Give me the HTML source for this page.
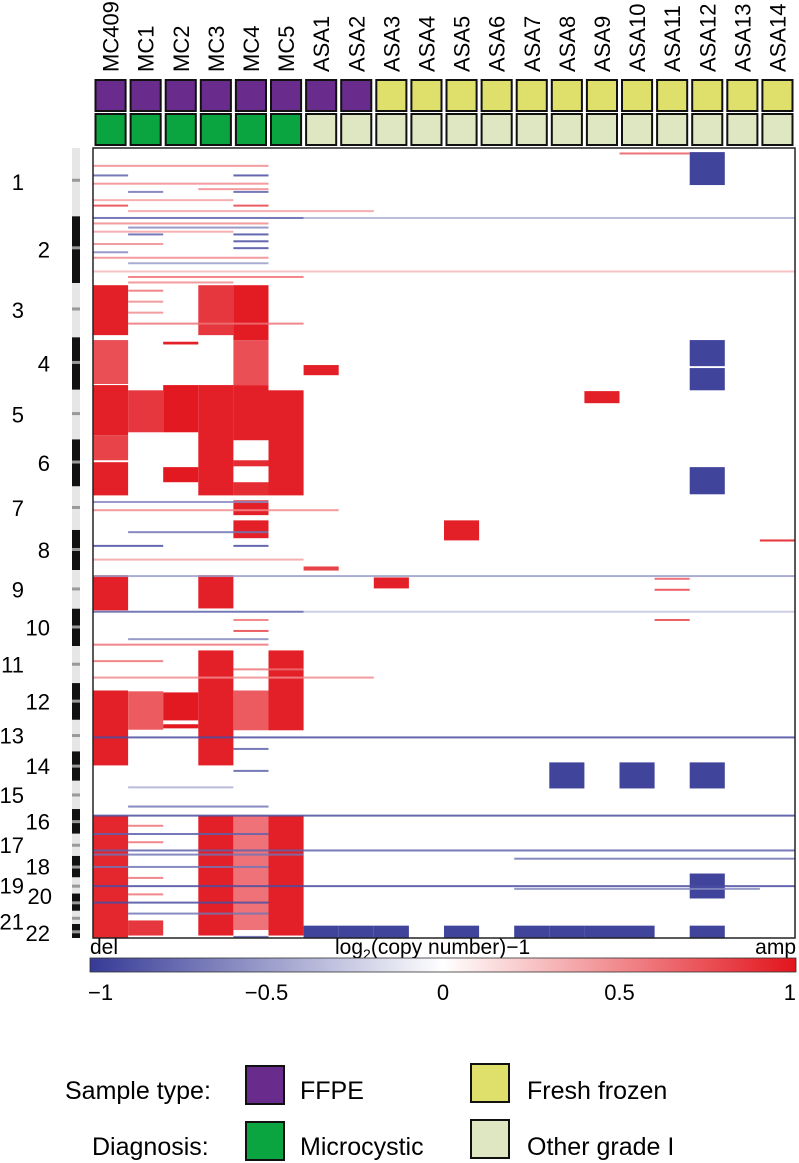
<!DOCTYPE html>
<html><head><meta charset="utf-8"><style>
body{margin:0;background:#fff;width:799px;height:1163px;overflow:hidden;font-family:"Liberation Sans",sans-serif}
svg{display:block}
</style></head><body>
<svg id="fig" width="799" height="1163" xmlns="http://www.w3.org/2000/svg" font-family="Liberation Sans, sans-serif">
<defs><linearGradient id="cb" x1="0" x2="1" y1="0" y2="0">
<stop offset="0" stop-color="#363a96"/><stop offset="0.5" stop-color="#ffffff"/><stop offset="1" stop-color="#e2141c"/></linearGradient></defs>
<g id="header"></g>
<g id="ideo"></g>
<g id="heat"></g>
<rect x="93" y="148" width="702" height="790" fill="none" stroke="#222" stroke-width="1.5"/>
<g>
<text x="90" y="954" font-size="21">del</text>
<text x="335" y="954" font-size="21">log<tspan font-size="14" dy="5">2</tspan><tspan dy="-5">(copy number)−1</tspan></text>
<text x="796" y="954" font-size="21" text-anchor="end">amp</text>
<rect x="90" y="958" width="706" height="14" fill="url(#cb)" stroke="#333" stroke-width="0.8"/>
<g id="cbticks"></g>
</g>
<g>
<text x="65" y="1099" font-size="25">Sample type:</text>
<rect x="246" y="1066" width="38" height="38" fill="#6a2c8c" stroke="#111" stroke-width="2"/>
<text x="300" y="1099" font-size="25">FFPE</text>
<rect x="471" y="1064" width="38" height="38" fill="#dfe06c" stroke="#111" stroke-width="2"/>
<text x="527" y="1099" font-size="25">Fresh frozen</text>
<text x="92" y="1155" font-size="25">Diagnosis:</text>
<rect x="246" y="1122" width="38" height="38" fill="#0aa540" stroke="#111" stroke-width="2"/>
<text x="300" y="1155" font-size="25">Microcystic</text>
<rect x="471" y="1120" width="38" height="38" fill="#dfe6c2" stroke="#111" stroke-width="2"/>
<text x="527" y="1155" font-size="25">Other grade I</text>
</g>
</svg>
<script>
const samples=["MC409","MC1","MC2","MC3","MC4","MC5","ASA1","ASA2","ASA3","ASA4","ASA5","ASA6","ASA7","ASA8","ASA9","ASA10","ASA11","ASA12","ASA13","ASA14"];
const sampleType=["F","F","F","F","F","F","F","F","R","R","R","R","R","R","R","R","R","R","R","R"];
const diagnosis=["M","M","M","M","M","M","O","O","O","O","O","O","O","O","O","O","O","O","O","O"];
const chromLengths=[249,243,198,191,181,171,159,146,141,136,135,134,115,107,103,90,81,78,59,63,48,51];
const cbTicks=[-1,-0.5,0,0.5,1];
const cbTickLabels=["−1","−0.5","0","0.5","1"];
// segments: [sampleIndex, startMb, endMb, log2 value]
const segments=[
[0,500,682,0.95],[0,700,860,0.75],[0,864,1047,0.95],[0,1047,1138,0.8],[0,1145,1266,0.95],[0,1557,1685,0.95],[0,1977,2250,0.95],[0,2433,2881,0.92],
[1,883,1036,0.85],[1,1980,2120,0.7],[1,2815,2870,0.85],
[2,706,716,0.95],[2,864,1036,0.98],[2,1163,1218,0.98],[2,1984,2086,0.98],[2,2100,2115,0.98],
[3,500,682,0.85],[3,864,1266,0.95],[3,1557,1678,0.95],[3,1831,2250,0.95],[3,2433,2870,0.95],
[4,500,700,0.97],[4,700,864,0.75],[4,864,1065,0.95],[4,1138,1160,0.9],[4,1218,1266,0.9],[4,1284,1338,0.95],[4,1357,1422,0.95],[4,1977,2122,0.7],[4,2433,2850,0.6],
[5,883,1266,0.95],[5,1831,2122,0.95],[5,2433,2870,0.95],
[6,791,828,0.95],[6,1525,1540,0.8],
[8,1565,1605,0.95],
[10,1357,1430,0.95],
[13,2239,2334,-0.95],[15,2239,2334,-0.95],[17,2239,2334,-0.95],
[14,886,930,0.95],
[17,15,135,-0.95],[17,700,795,-0.95],[17,802,883,-0.95],[17,1163,1262,-0.95],[17,2644,2735,-0.95],
[6,2834,2881,-0.95],[7,2834,2881,-0.95],[8,2834,2881,-0.95],[10,2834,2881,-0.95],[12,2834,2881,-0.95],[13,2834,2881,-0.95],[14,2834,2881,-0.95],[15,2834,2881,-0.95],[17,2834,2881,-0.95],
[19,1430,1434,0.9]
];
// thin recurring lines: [Mb, value, fromSample, toSample]
const lines=[
[65,0.5,0,4],[100,-0.8,0,0],[100,-0.9,4,4],[130,0.5,0,4],[150,0.5,3,4],[160,-0.7,1,1],[160,-0.8,4,4],[190,0.4,0,3],[210,0.8,0,0],[210,0.8,4,4],[230,0.4,1,7],[255,-0.8,0,5],[255,-0.4,6,19],
[275,0.5,0,4],[290,-0.6,1,4],[305,0.4,0,3],[315,-0.8,1,1],[315,-0.9,4,4],[340,-0.9,4,4],[350,0.5,0,1],[365,-0.9,4,4],[380,-0.6,0,0],[400,0.5,0,4],[420,-0.5,1,4],[450,0.3,0,19],
[470,0.6,1,5],[490,0.5,1,3],[520,0.6,1,1],[560,0.5,1,1],[600,0.5,1,1],[640,0.6,1,5],
[1290,-0.6,0,4],[1320,0.5,0,6],[1400,-0.7,1,4],[1450,-0.9,0,1],[1450,-0.9,4,4],[1500,0.4,0,5],[1560,-0.5,0,19],[1690,-0.8,0,5],[1690,-0.3,6,19],
[1720,0.6,4,4],[1760,0.8,4,4],[1790,-0.6,1,4],[1810,0.6,0,4],[1870,0.6,0,1],[1930,0.5,0,7],[1900,0.6,4,5],
[2148,-0.9,0,19],[2190,-0.8,4,4],[2270,-0.8,4,4],[2330,-0.4,1,3],[2400,-0.7,1,4],[2433,-0.9,0,19],[2500,-0.8,0,4],[2560,-0.8,0,19],[2575,-0.7,0,5],[2620,-0.7,0,4],[2690,-0.9,0,19],[2750,-0.9,0,4],[2790,-0.7,1,4],[2875,-0.8,4,4],
[2470,0.6,1,1],[2530,0.6,1,1],[2660,0.6,1,1],[2720,0.6,1,1],
[2590,-0.7,12,19],[2700,-0.6,12,18],[1570,0.7,16,16],[1610,0.8,16,16],[1720,0.8,16,16],[20,0.7,15,16],[1430,0.9,19,19]
];
const NS="http://www.w3.org/2000/svg";
const X0=93,X1=795,Y0=148,Y1=938;
const total=chromLengths.reduce((a,b)=>a+b,0);
const yScale=mb=>Y0+mb/total*(Y1-Y0);
const colW=(X1-X0)/samples.length;
const xScale=i=>X0+i*colW;
function color(v){v=Math.max(-1,Math.min(1,v));
 if(v<0){const t=-v;return `rgb(${Math.round(255-(255-54)*t)},${Math.round(255-(255-58)*t)},${Math.round(255-(255-150)*t)})`;}
 const t=v;return `rgb(${Math.round(255-(255-226)*t)},${Math.round(255-(255-20)*t)},${Math.round(255-(255-28)*t)})`;}
function mk(tag,attrs,parent){const e=document.createElementNS(NS,tag);for(const k in attrs)e.setAttribute(k,attrs[k]);parent.appendChild(e);return e;}
const header=document.getElementById('header');
const typeCol={F:"#6a2c8c",R:"#dfe06c"},diagCol={M:"#0aa540",O:"#dfe6c2"};
samples.forEach((s,i)=>{
 const cx=xScale(i)+colW/2;
 const t=mk('text',{x:cx+8,y:72,'font-size':22,transform:`rotate(-90 ${cx+8} 72)`},header);t.textContent=s;
 
 
 const r1=mk('rect',{x:xScale(i)+2.5,y:80,width:colW-5,height:31,fill:typeCol[sampleType[i]],stroke:'#111','stroke-width':2},header);
 
 
 const r2=mk('rect',{x:xScale(i)+2.5,y:114,width:colW-5,height:31,fill:diagCol[diagnosis[i]],stroke:'#111','stroke-width':2},header);
 
 
});
const heat=document.getElementById('heat');
segments.forEach(d=>{
 const y=yScale(d[1]),h=Math.max(1,yScale(d[2])-y);
 const r=mk('rect',{x:xScale(d[0]),y:y,width:colW,height:h,fill:color(d[3])},heat);
 
 
});
lines.forEach(d=>{
 const y=yScale(d[0]);
 const r=mk('rect',{x:xScale(d[2]),y:y-1,width:colW*(d[3]-d[2]+1),height:2,fill:color(d[1]),opacity:0.85},heat);
 
 
});
const ideo=document.getElementById('ideo');
let acc=0;
chromLengths.forEach((L,c)=>{
 const y=yScale(acc),h=yScale(acc+L)-y;
 const r=mk('rect',{x:72,y:y,width:8,height:h,fill:c%2?'#111':'#e6e6e6'},ideo);
 
 
 const cm=mk('rect',{x:72,y:y+h*0.45,width:8,height:3,fill:'#999'},ideo);
 
 
 let ly=y+h/2+8,lx=c%2?50:24;
 if(c===19){ly=y+h/2+2;lx=52;} if(c===20){ly=y+h/2+12;lx=24;} if(c===21){ly=y+h/2+10;lx=50;}
 const t=mk('text',{x:lx,y:ly,'font-size':22,'text-anchor':'end'},ideo);t.textContent=String(c+1);
 
 
 acc+=L;
});
const cbt=document.getElementById('cbticks');
const cbX=v=>90+(v+1)/2*706;
cbTicks.forEach((v,i)=>{
 const t=mk('text',{x:cbX(v),y:1000,'font-size':22,'text-anchor':i===0?'start':(i===cbTicks.length-1?'end':'middle')},cbt);
 if(i===0)t.setAttribute('x',cbX(v)-2);
 t.textContent=cbTickLabels[i];
 
 
});
</script>
</body></html>
